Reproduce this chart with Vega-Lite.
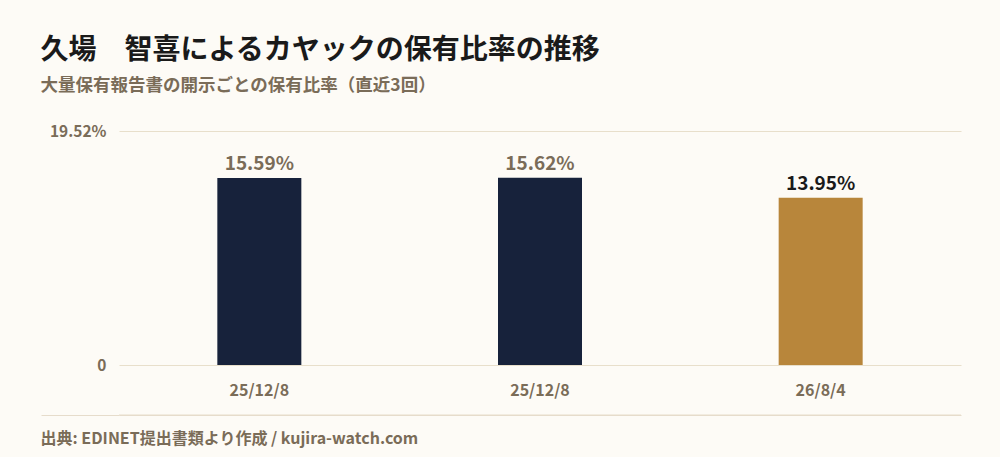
{
  "$schema": "https://vega.github.io/schema/vega-lite/v6.json",
  "background": "#fdfbf6",
  "padding": {"left": 40, "right": 40, "top": 36, "bottom": 10},
  "title": {
    "text": "久場　智喜によるカヤックの保有比率の推移",
    "subtitle": "大量保有報告書の開示ごとの保有比率（直近3回）",
    "anchor": "start",
    "fontSize": 28,
    "fontWeight": "bold",
    "color": "#1a1a1a",
    "subtitleFontSize": 17.5,
    "subtitleFontWeight": "bold",
    "subtitleColor": "#7a6c58",
    "subtitlePadding": 12,
    "offset": 30
  },
  "spacing": 16,
  "vconcat": [
    {
      "width": 842,
      "height": 234,
      "data": {
        "values": [
          {"key": "25/12/8 a", "ratio": 15.59, "latest": "no"},
          {"key": "25/12/8 b", "ratio": 15.62, "latest": "no"},
          {"key": "26/8/4 c", "ratio": 13.95, "latest": "yes"}
        ]
      },
      "transform": [
        {"calculate": "format(datum.ratio, '.2f') + '%'", "as": "label"}
      ],
      "encoding": {
        "x": {
          "field": "key",
          "type": "nominal",
          "sort": null,
          "title": null,
          "scale": {"paddingInner": 0, "paddingOuter": 0},
          "axis": {
            "labelAngle": 0,
            "labelExpr": "split(datum.label, ' ')[0]",
            "domain": false,
            "ticks": false,
            "labelPadding": 17,
            "labelFontSize": 16,
            "labelFontWeight": "bold",
            "labelColor": "#7a6c58"
          }
        },
        "y": {
          "field": "ratio",
          "type": "quantitative",
          "title": null,
          "scale": {"domain": [0, 19.52], "nice": false},
          "axis": {
            "values": [0, 19.52],
            "labelExpr": "datum.value == 0 ? '0' : '19.52%'",
            "domain": false,
            "ticks": false,
            "labelPadding": 13,
            "labelFontSize": 15.5,
            "labelFontWeight": "bold",
            "labelColor": "#7a6c58",
            "gridColor": "#e8dfcb",
            "gridWidth": 1
          }
        }
      },
      "layer": [
        {
          "mark": {"type": "bar", "width": 84},
          "encoding": {
            "color": {
              "field": "latest",
              "type": "nominal",
              "scale": {"domain": ["no", "yes"], "range": ["#17223b", "#b8863b"]},
              "legend": null
            }
          }
        },
        {
          "mark": {"type": "text", "baseline": "bottom", "dy": -4, "fontSize": 19, "fontWeight": "bold"},
          "encoding": {
            "text": {"field": "label"},
            "color": {
              "condition": {"test": "datum.latest == 'yes'", "value": "#1a1a1a"},
              "value": "#7a6c58"
            }
          }
        }
      ]
    },
    {
      "width": 842,
      "height": 1,
      "data": {"values": [{"v": 0}]},
      "title": {
        "text": "出典: EDINET提出書類より作成 / kujira-watch.com",
        "orient": "bottom",
        "anchor": "start",
        "frame": "bounds",
        "fontSize": 16,
        "fontWeight": "bold",
        "color": "#7a6c58",
        "offset": 15
      },
      "mark": {"type": "rule", "color": "#e6dccb", "strokeWidth": 1},
      "encoding": {
        "y": {
          "field": "v",
          "type": "quantitative",
          "title": null,
          "scale": {"domain": [0, 1]},
          "axis": {
            "values": [0],
            "labels": false,
            "domain": false,
            "grid": true,
            "gridColor": "#e6dccb",
            "ticks": true,
            "tickSize": 78,
            "tickColor": "#e6dccb",
            "tickWidth": 1
          }
        }
      }
    }
  ],
  "config": {
    "font": "Noto Sans CJK JP",
    "view": {"stroke": null},
    "axis": {"labelFont": "Noto Sans CJK JP"}
  }
}
